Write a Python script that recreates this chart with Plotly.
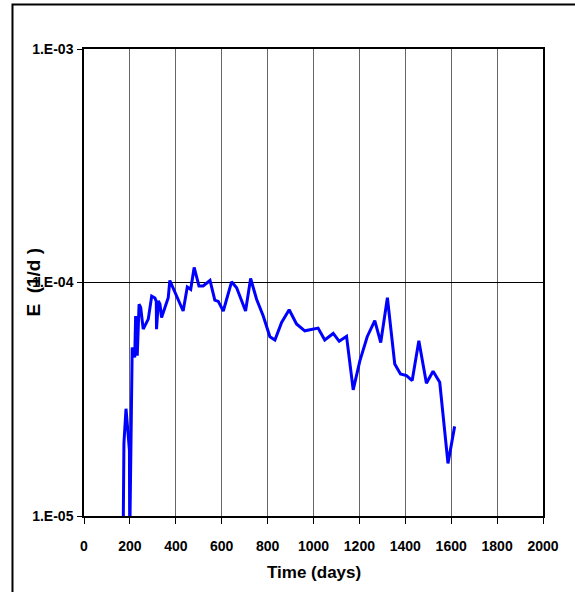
import plotly.graph_objects as go

# Data
days = [171, 174, 183, 198, 199, 200, 210, 221, 225, 232, 240, 247, 258, 280, 295,
        309, 315, 316, 324, 331, 338, 367, 374, 432, 450, 465, 480, 501, 519, 549,
        570, 585, 607, 643, 665, 704, 726, 752, 781, 810, 832, 861, 894, 926, 962,
        1020, 1049, 1086, 1112, 1144, 1173, 1202, 1234, 1267, 1293, 1322, 1354, 1379,
        1405, 1430, 1459, 1492, 1521, 1550, 1586, 1615]
e_values = [9e-6, 2.05e-5, 2.88e-5, 1.91e-5, 9e-6, 9e-6, 5.27e-5, 4.78e-5, 7.19e-5, 4.86e-5,
            8.07e-5, 7.82e-5, 6.31e-5, 6.97e-5, 8.75e-5, 8.59e-5, 8.3e-5, 6.31e-5, 8.34e-5,
            8.07e-5, 7.08e-5, 8.6e-5, 1.02e-4, 7.55e-5, 9.57e-5, 9.35e-5, 1.16e-4, 9.66e-5,
            9.66e-5, 1.02e-4, 8.4e-5, 8.3e-5, 7.55e-5, 1.007e-4, 9.5e-5, 7.55e-5, 1.04e-4,
            8.48e-5, 7.19e-5, 5.86e-5, 5.67e-5, 6.75e-5, 7.64e-5, 6.64e-5, 6.21e-5, 6.38e-5,
            5.67e-5, 6.05e-5, 5.6e-5, 5.88e-5, 3.47e-5, 4.62e-5, 5.86e-5, 6.86e-5, 5.53e-5,
            8.6e-5, 4.48e-5, 4.06e-5, 3.99e-5, 3.8e-5, 5.63e-5, 3.7e-5, 4.17e-5, 3.74e-5,
            1.68e-5, 2.42e-5]

x_ticks = [0, 200, 400, 600, 800, 1000, 1200, 1400, 1600, 1800, 2000]
y_tickvals = [1e-5, 1e-4, 1e-3]
y_ticktext = ["1.E-05", "1.E-04", "1.E-03"]
x_title = "Time (days)"
y_title = "E  (1/d )"

FONT = "Liberation Sans Narrow, Arial Narrow, Liberation Sans, Arial, sans-serif"

fig = go.Figure()
fig.add_trace(go.Scatter(x=days, y=e_values, mode="lines",
                         line=dict(color="#0000FF", width=3), showlegend=False))

fig.update_layout(
    width=575, height=592,
    margin=dict(l=84, r=32, t=49, b=76),
    paper_bgcolor="white", plot_bgcolor="white",
    font=dict(family=FONT, size=14, color="black", weight="bold"),
)
fig.update_xaxes(
    range=[0, 2000], tickvals=x_ticks, ticktext=[str(v) for v in x_ticks],
    showgrid=True, gridcolor="#666666", gridwidth=1.4,
    showline=True, linecolor="black", linewidth=1.5, mirror=True,
    ticks="outside", ticklen=6, tickcolor="black", tickwidth=1,
    ticklabelstandoff=10, zeroline=False,
    tickfont=dict(family=FONT, size=14, color="black", weight="bold"),
)
fig.update_yaxes(
    type="log", range=[-5, -3], tickvals=y_tickvals, ticktext=y_ticktext,
    showgrid=True, gridcolor="black", gridwidth=1,
    showline=True, linecolor="black", linewidth=1.5, mirror=True,
    ticks="outside", ticklen=5, tickcolor="black", tickwidth=1,
    ticklabelstandoff=1, zeroline=False,
    tickfont=dict(family=FONT, size=14, color="black", weight="bold"),
)

fig.add_annotation(text=x_title, xref="paper", yref="paper", x=0.5, y=-0.12,
                   xanchor="center", yanchor="middle", showarrow=False,
                   font=dict(family=FONT, size=17, color="black", weight="bold"))
fig.add_annotation(text=y_title, xref="paper", yref="paper", x=-0.111, y=0.5,
                   xanchor="center", yanchor="middle", showarrow=False, textangle=-90,
                   font=dict(family=FONT, size=19, color="black", weight="bold"))

# outer frame
fig.add_shape(type="rect", xref="paper", yref="paper",
              x0=-0.1558, x1=1.08, y0=-0.18, y1=1.0953,
              line=dict(color="black", width=2), layer="below")

fig.write_html("out.html")
